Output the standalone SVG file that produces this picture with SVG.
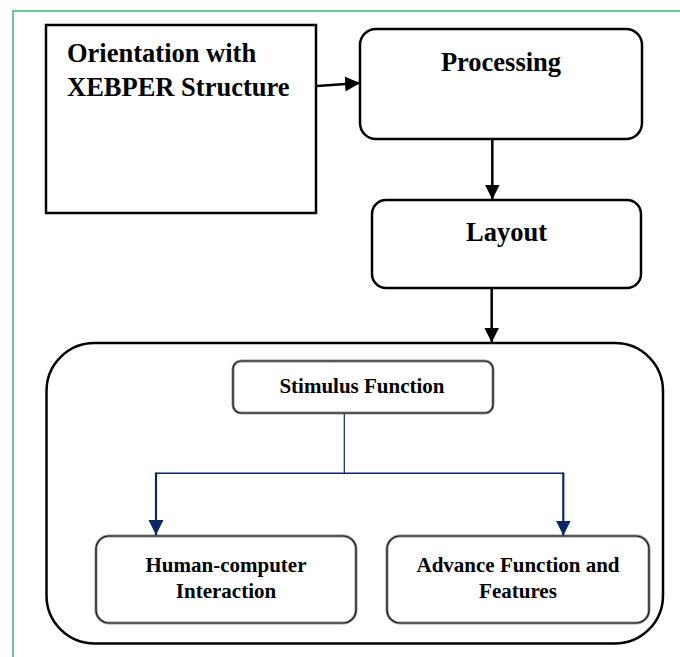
<svg xmlns="http://www.w3.org/2000/svg" width="680" height="657" viewBox="0 0 680 657">
<style>
.big{font-family:"Liberation Serif","Times New Roman",serif;font-weight:bold;font-size:26.5px;fill:#000}
.sm{font-family:"Liberation Serif","Times New Roman",serif;font-weight:bold;font-size:21px;fill:#000;text-anchor:middle}
.box{fill:#fff;stroke:#000;stroke-width:2.5}
.sh{fill:#fff;stroke:#9a9a9a;stroke-width:3}
.in{fill:none;stroke:#111;stroke-width:1.2}
.blk{stroke:#000;stroke-width:2.5;fill:none}
.nv{stroke:#0b2566;fill:none}
</style>
<defs>
<marker id="ab" markerUnits="userSpaceOnUse" markerWidth="16" markerHeight="16" refX="15" refY="8" orient="auto" viewBox="0 0 16 16"><path d="M0,0.5 L15,8 L0,15.5 Z" fill="#000"/></marker>
<marker id="an" markerUnits="userSpaceOnUse" markerWidth="16" markerHeight="16" refX="15" refY="8" orient="auto" viewBox="0 0 16 16"><path d="M0,0.5 L15,8 L0,15.5 Z" fill="#0b2566"/></marker>
</defs>
<rect width="680" height="657" fill="#fff"/>
<path d="M13,657 V11 H680" fill="none" stroke="#3dbb6f" stroke-width="1.5"/>

<g id="orientation">
<rect class="box" x="46" y="25" width="270" height="188"/>
<text class="big" x="67" y="62">Orientation with</text>
<text class="big" x="67" y="96">XEBPER Structure</text>
</g>

<g id="processing">
<rect class="box" x="360" y="29" width="282" height="110" rx="16"/>
<text class="big" x="501" y="71" text-anchor="middle">Processing</text>
</g>

<g id="layout">
<rect class="box" x="372" y="200" width="269" height="88" rx="14"/>
<text class="big" x="506.5" y="241" text-anchor="middle">Layout</text>
</g>

<g id="container">
<rect class="box" x="46.5" y="343" width="616.5" height="300.5" rx="48"/>
</g>

<g id="stimulus">
<rect class="sh" x="233" y="361" width="260" height="52" rx="8"/>
<rect class="in" x="233" y="361" width="260" height="52" rx="8"/>
<text class="sm" x="362" y="393">Stimulus Function</text>
</g>

<g id="hci">
<rect class="sh" x="96" y="536" width="260" height="87" rx="13"/>
<rect class="in" x="96" y="536" width="260" height="87" rx="13"/>
<text class="sm" x="226" y="572">Human-computer</text>
<text class="sm" x="226" y="598">Interaction</text>
</g>

<g id="advance">
<rect class="sh" x="387" y="536" width="262" height="87" rx="13"/>
<rect class="in" x="387" y="536" width="262" height="87" rx="13"/>
<text class="sm" x="518" y="572">Advance Function and</text>
<text class="sm" x="518" y="598">Features</text>
</g>

<g id="connectors">
<path class="blk" d="M317,86 L360,83" marker-end="url(#ab)"/>
<path class="blk" d="M492.3,140 V199.5" marker-end="url(#ab)"/>
<path class="blk" d="M491.7,289 V342.5" marker-end="url(#ab)"/>
<path class="nv" stroke-width="1.2" d="M344.3,414 V473.3"/>
<path class="nv" stroke-width="1.6" d="M156,473.3 H563.3"/>
<path class="nv" stroke-width="2.2" d="M156,472.5 V535" marker-end="url(#an)"/>
<path class="nv" stroke-width="2.2" d="M563.3,472.5 V535.5" marker-end="url(#an)"/>
</g>
</svg>
